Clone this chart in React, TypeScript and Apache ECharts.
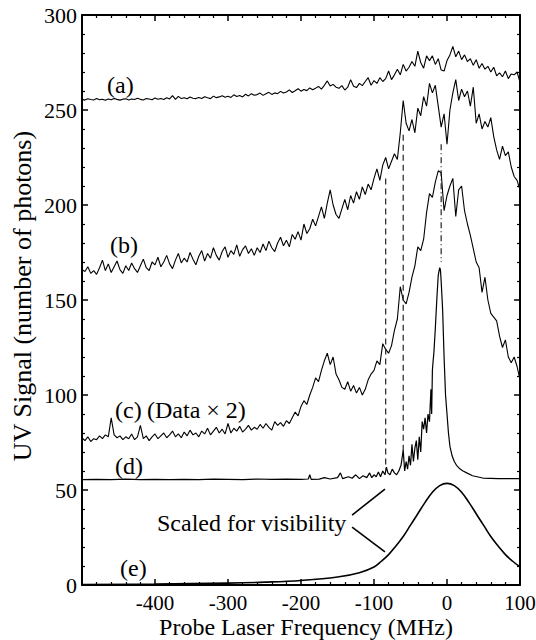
import React, { useEffect, useRef } from "react";
import * as echarts from "echarts";

// Frequency grid (MHz) for the noisy traces: -500 .. 100, every 4 MHz
const FREQ: number[] = Array.from({ length: 151 }, (_, i) => -500 + 4 * i);

const SERIES_A: number[] = [
  255.6, 255.2, 255.9, 255.5, 255.3, 256.0, 255.4, 255.7, 255.1, 255.8,
  255.4, 256.1, 255.6, 255.2, 255.7, 255.9, 255.3, 255.8, 255.5, 256.2,
  255.6, 255.3, 256.0, 255.8, 255.4, 256.3, 255.7, 256.1, 255.5, 256.4,
  255.8, 257.6, 255.6, 257.2, 256.0, 256.5, 255.9, 256.8, 256.2, 256.0,
  256.6, 256.1, 257.0, 256.4, 256.0, 257.3, 256.5, 256.9, 257.5, 256.7,
  257.2, 256.6, 258.0, 257.1, 257.6, 256.9, 258.3, 257.4, 258.6, 257.8,
  258.1, 258.9, 257.7, 258.5, 259.3, 258.2, 259.0, 258.6, 259.8, 258.9,
  259.5, 260.6, 259.2, 260.1, 261.2, 259.9, 260.8, 260.2, 261.6, 260.7,
  261.5, 262.4, 261.0, 263.0, 265.3, 262.6, 263.5, 262.0, 261.4, 262.8,
  260.5, 262.0, 266.0, 262.5, 261.8, 264.0, 262.8, 265.0, 267.0, 263.0,
  265.5, 264.0, 267.0, 265.0, 266.5, 270.5, 266.0, 268.5, 271.5, 268.5,
  274.0, 270.5, 272.5, 275.5, 273.0, 281.0, 275.0, 272.0, 278.5, 276.0,
  278.5, 274.0, 277.0, 271.0, 270.5, 276.0, 279.0, 283.5, 278.0, 281.0,
  276.5, 279.0, 275.5, 277.0, 273.5, 276.5, 272.0, 274.5, 271.5, 273.0,
  270.0, 272.5, 268.0, 269.5, 267.5, 270.5, 266.5, 269.0, 268.5, 270.0,
  264.5,
];

const SERIES_B: number[] = [
  166, 165, 167.5, 164, 165.5, 163.5, 167, 171, 165.5, 169,
  164.5, 167.5, 170.5, 166, 164, 168, 165.5, 169.5, 166.5, 164.5,
  168, 171.5, 167, 165.5, 170, 168.5, 172.5, 167.5, 170, 173.5,
  169, 166.5, 171, 174.5, 169.5, 172, 170, 175, 171.5, 168.5,
  173, 176, 170.5, 174.5, 172, 177.5, 173.5, 171, 175.5, 178,
  172.5, 176, 174, 179, 173, 176.5, 178.5, 174.5, 177, 173.5,
  177.5, 175, 179.5, 176, 181, 177.5, 175.5, 180, 183, 178.5,
  181.5, 178, 184.5, 182, 186, 181.5, 190, 185, 187.5, 192.5,
  189, 194, 199, 193, 201, 208, 200, 195, 193, 198,
  203, 197.5, 205, 201, 207, 203, 209.5, 205.5, 211, 208,
  214, 219, 213, 221, 225, 219, 223, 227, 224, 238,
  255, 243, 239, 245, 238, 251, 247, 257, 252, 264,
  259, 263, 252, 241, 248, 232, 250, 259, 266, 255,
  261, 257, 260, 252, 262, 243, 248, 240, 244, 241,
  246, 236, 229, 224, 231, 226, 228, 220, 215, 213,
  208,
];

const SERIES_C: number[] = [
  77.5, 76, 78, 75.5, 77, 76.5, 78.5, 77, 79, 78,
  88, 79, 77.5, 78.5, 76.5, 78, 77, 79.5, 76.5, 78,
  84, 77, 78.5, 76, 78, 79.5, 77, 78.5, 80, 77.5,
  79, 81, 78, 79.5, 77.5, 80.5, 78.5, 81.5, 79, 80,
  78, 81, 79.5, 82.5, 79, 81, 83, 80, 82, 79.5,
  85, 80, 82.5, 81, 83.5, 80.5, 82, 84, 81.5, 83,
  82, 84.5, 82.5, 85, 83, 81.5, 86, 84, 85.5, 83.5,
  86.5, 85, 88, 91, 89, 94, 97, 95, 100, 104,
  109, 107, 113, 118, 122, 116, 120, 111, 108, 104,
  103, 107, 102, 105, 101, 104, 100, 103, 108, 111,
  113, 118, 116, 127, 124, 122, 126, 134, 140, 157,
  150, 148, 154, 162, 168, 178, 176, 182, 196, 206,
  204, 212, 218, 217, 197, 205, 210, 214, 194, 208,
  210, 197, 190, 184, 177, 170, 167, 154, 162, 150,
  143, 141, 139, 131, 125, 129, 120, 117, 120, 115,
  108,
];

// Trace (d): [MHz, signal]
const SERIES_D: [number, number][] = [
  [-500, 55.5], [-480, 55.6], [-460, 55.5], [-440, 55.7], [-420, 55.5], [-400, 55.6],
  [-380, 55.5], [-360, 55.6], [-340, 55.5], [-320, 55.7], [-300, 55.6], [-280, 55.5],
  [-260, 55.8], [-240, 55.6], [-220, 55.7], [-200, 55.6], [-190, 55.8], [-188, 58],
  [-186, 55.6], [-175, 55.7], [-168, 56.5], [-160, 55.8], [-150, 56.5], [-146, 59],
  [-143, 56], [-135, 57], [-130, 56.2], [-125, 58], [-120, 56], [-115, 57.5],
  [-110, 56.5], [-106, 59], [-103, 56.5], [-100, 58], [-97, 57], [-94, 59.5],
  [-91, 57], [-88, 60], [-85, 58], [-83, 62], [-81, 59], [-78, 58], [-75, 61],
  [-72, 59], [-69, 58], [-66, 60], [-63, 63], [-60, 71], [-58, 60], [-56, 65],
  [-54, 61], [-52, 68], [-50, 63], [-48, 74], [-46, 65], [-44, 72], [-42, 76],
  [-40, 66], [-38, 78], [-36, 70], [-34, 86], [-32, 82], [-30, 88], [-28, 80],
  [-26, 90], [-24, 86], [-22, 103], [-21, 90], [-20, 113], [-19, 118], [-18, 122],
  [-16, 135], [-14, 150], [-12, 163], [-10, 167], [-9, 166], [-8, 160], [-6, 145],
  [-4, 120], [-2, 100], [0, 90], [2, 80], [4, 73], [7, 68], [10, 65], [13, 63],
  [18, 61], [22, 60], [27, 59], [35, 57.5], [49, 56.3], [70, 56], [100, 56],
];

// Trace (e): calculated lineshape, scaled for visibility
const SERIES_E: [number, number][] = [
  [-500, 0.3], [-400, 0.5], [-300, 1.0], [-250, 1.5], [-200, 2.4], [-150, 4.2],
  [-120, 6.5], [-100, 9.5], [-90, 12.5], [-80, 16], [-70, 20.5], [-60, 25.5],
  [-50, 31.5], [-40, 37.5], [-30, 43.5], [-20, 48.8], [-10, 52.3], [0, 53.5],
  [10, 52.3], [20, 48.8], [30, 43.5], [40, 37.5], [50, 31.5], [60, 25.5],
  [70, 20.5], [80, 16], [90, 12.5], [100, 9.5],
];

// Guide lines
const DASH_1: [number, number][] = [[-84, 214], [-84, 61]];
const DASH_2: [number, number][] = [[-60, 237], [-60, 70]];
const DASH_DOT: [number, number][] = [[-8, 232], [-8, 170]];
const BRACKET_UP: [number, number][] = [[-130, 36.8], [-85, 50.5]];
const BRACKET_DOWN: [number, number][] = [[-130, 30.5], [-85, 17.4]];

const X_TITLE = "Probe Laser Frequency (MHz)";
const Y_TITLE = "UV Signal (number of photons)";

const FONT = "'Liberation Serif', 'Times New Roman', Tinos, 'DejaVu Serif', serif";

export default function App() {
  const ref = useRef<HTMLDivElement>(null);

  useEffect(() => {
    if (!ref.current) return;
    const chart = echarts.init(ref.current, null, { renderer: "svg" });

    const pair = (vals: number[]) => FREQ.map((f, i) => [f, vals[i]]);

    const lineSeries = (data: any, width = 1, extra: any = {}) => ({
      type: "line",
      data,
      showSymbol: false,
      symbol: "none",
      silent: true,
      lineStyle: { color: "#000", width, ...(extra.lineStyle || {}) },
      smooth: extra.smooth || false,
      z: extra.z || 2,
    });

    const axisCommon = {
      axisLine: { show: true, onZero: false, lineStyle: { color: "#000", width: 2 } },
      axisTick: { show: true, inside: true, length: 6, lineStyle: { color: "#000", width: 1.5 } },
      minorTick: { show: true, splitNumber: 5, length: 3, lineStyle: { color: "#000", width: 1.2 } },
      splitLine: { show: false },
      minorSplitLine: { show: false },
    };

    const labelStyle = { fontFamily: FONT, fontSize: 21, color: "#000" };

    const textEl = (text: string, x: number, y: number, size = 24) => ({
      type: "text",
      x,
      y,
      silent: true,
      style: {
        text,
        fill: "#000",
        fontFamily: FONT,
        fontSize: size,
        textAlign: "left",
        textVerticalAlign: "middle",
        verticalAlign: "middle",
      },
    });

    chart.setOption({
      animation: false,
      backgroundColor: "#fff",
      textStyle: { fontFamily: FONT },
      grid: {
        left: 82,
        right: 16,
        top: 15,
        bottom: 55,
        containLabel: false,
        outerBoundsMode: "none",
      },
      xAxis: [
        {
          type: "value",
          min: -500,
          max: 100,
          interval: 100,
          position: "bottom",
          ...axisCommon,
          axisLabel: {
            ...labelStyle,
            margin: 7,
            showMinLabel: false,
            formatter: (v: number) => (v === -500 ? "" : String(v)),
          },
          name: X_TITLE,
          nameLocation: "middle",
          nameGap: 30,
          nameMoveOverlap: false,
          nameTextStyle: {
            fontFamily: FONT,
            fontSize: 24,
            lineHeight: 24,
            color: "#000",
            padding: [0, 0, 0, 10],
          },
        },
        {
          type: "value",
          min: -500,
          max: 100,
          interval: 100,
          position: "top",
          ...axisCommon,
          axisLabel: { show: false },
        },
      ],
      yAxis: [
        {
          type: "value",
          min: 0,
          max: 300,
          interval: 50,
          position: "left",
          ...axisCommon,
          axisLabel: { ...labelStyle, fontSize: 22, margin: 5 },
          name: Y_TITLE,
          nameLocation: "middle",
          nameGap: 47,
          nameRotate: 90,
          nameMoveOverlap: false,
          nameTextStyle: { fontFamily: FONT, fontSize: 26, color: "#000", padding: [0, 0, 0, 8] },
        },
        {
          type: "value",
          min: 0,
          max: 300,
          interval: 50,
          position: "right",
          ...axisCommon,
          axisLabel: { show: false },
        },
      ],
      series: [
        lineSeries(pair(SERIES_A), 1.1),
        lineSeries(pair(SERIES_B), 1.1),
        lineSeries(pair(SERIES_C), 1.1),
        lineSeries(SERIES_D, 1.2),
        lineSeries(SERIES_E, 1.6, { smooth: 0.4 }),
        lineSeries(DASH_1, 1.2, { lineStyle: { type: [6, 4], color: "#222" } }),
        lineSeries(DASH_2, 1.2, { lineStyle: { type: [6, 4], color: "#222" } }),
        lineSeries(DASH_DOT, 1.2, { lineStyle: { type: [6, 3, 1, 3], color: "#222" } }),
        lineSeries(BRACKET_UP, 1.6),
        lineSeries(BRACKET_DOWN, 1.6),
      ],
      graphic: [
        textEl("(a)", 107, 85),
        textEl("(b)", 110, 245),
        textEl("(c)", 115, 410),
        textEl("(Data × 2)", 147, 410),
        textEl("(d)", 115, 466),
        textEl("Scaled for visibility", 157, 523),
        textEl("(e)", 120, 568),
      ],
    });

    return () => chart.dispose();
  }, []);

  return (
    <div
      ref={ref}
      style={{ position: "fixed", left: 0, top: 0, width: 536, height: 640, background: "#fff" }}
    />
  );
}
